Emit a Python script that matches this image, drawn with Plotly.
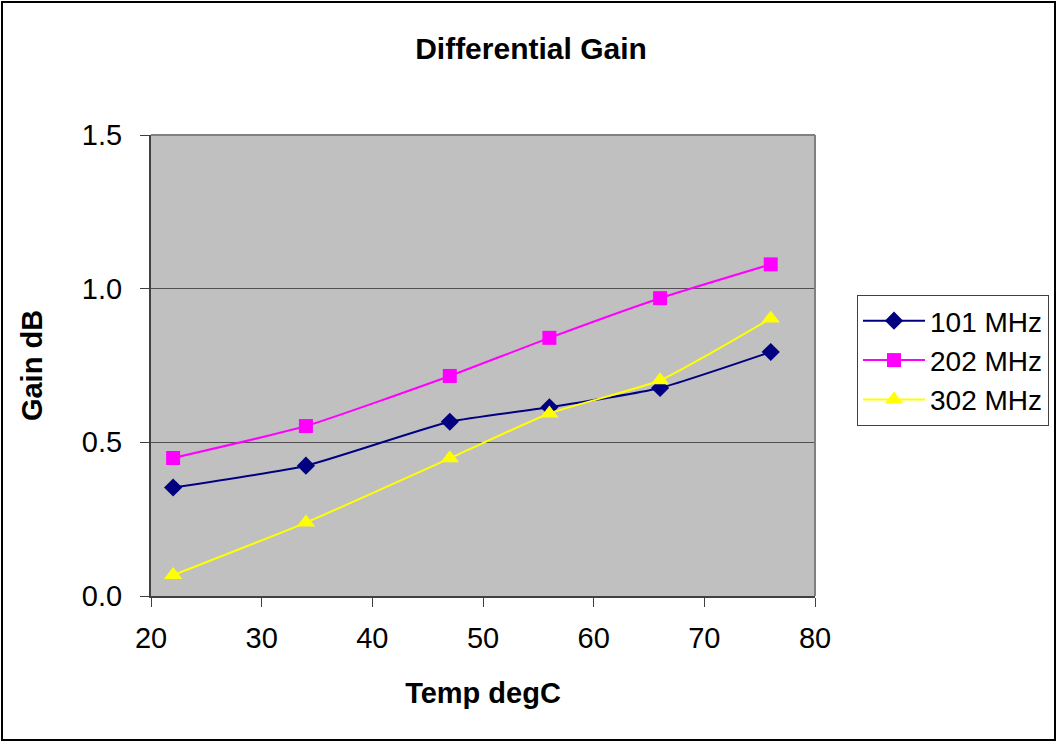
import plotly.graph_objects as go

temps = [22, 34, 47, 56, 66, 76]
gain_101 = [0.353, 0.424, 0.567, 0.614, 0.677, 0.794]
gain_202 = [0.449, 0.553, 0.716, 0.840, 0.969, 1.079]
gain_302 = [0.068, 0.239, 0.448, 0.594, 0.702, 0.903]
series_names = ["101 MHz", "202 MHz", "302 MHz"]

W, H = 1057, 742
L, R, T, B = 151, 242, 135, 146
pw, ph = W - L - R, H - T - B

fig = go.Figure()
styles = [
    (gain_101, "#000080", "diamond", 14),
    (gain_202, "#FF00FF", "square", 14),
    (gain_302, "#FFFF00", "triangle-up", 16),
]
for name, (vals, col, sym, sz) in zip(series_names, styles):
    fig.add_trace(go.Scatter(
        x=temps, y=vals, name=name, mode="lines+markers",
        line=dict(color=col, width=2, shape="spline", smoothing=0.5),
        marker=dict(symbol=sym, size=sz, color=col),
    ))

font = "Liberation Sans, Arial, sans-serif"
fig.update_layout(
    width=W, height=H,
    margin=dict(l=L, r=R, t=T, b=B, autoexpand=False),
    paper_bgcolor="white", plot_bgcolor="#C0C0C0",
    font=dict(family=font, size=29, color="black"),
    title=dict(text="<b>Differential Gain</b>", x=531 / W, xanchor="center",
               y=1 - 48 / H, yanchor="middle", font=dict(size=30)),
    showlegend=True,
    legend=dict(x=(857 - L) / pw, xanchor="left", y=1 - (295 - T) / ph, yanchor="top",
                bordercolor="#404040", borderwidth=1, bgcolor="white",
                font=dict(size=28), tracegroupgap=0, itemwidth=62),
    xaxis=dict(range=[20, 80], tickvals=[20, 30, 40, 50, 60, 70, 80], showgrid=False,
               showline=True, linecolor="#404040", linewidth=2, mirror=False,
               ticks="outside", ticklen=9, tickcolor="#404040", zeroline=False,
               ticklabelstandoff=6,
               title=dict(text="<b>Temp degC</b>", standoff=30, font=dict(size=29))),
    yaxis=dict(range=[0, 1.5], tickvals=[0, 0.5, 1.0, 1.5], ticktext=["0.0", "0.5", "1.0", "1.5"],
               showgrid=True, gridcolor="#505050", gridwidth=1,
               showline=True, linecolor="#404040", linewidth=2,
               ticks="outside", ticklen=9, tickcolor="#404040", zeroline=False,
               ticklabelstandoff=12,
               title=dict(text="<b>Gain dB</b>", standoff=31, font=dict(size=29))),
)
# right/top frame of plot area
fig.add_shape(type="line", xref="paper", yref="paper", x0=1, x1=1, y0=0, y1=1,
              line=dict(color="#808080", width=2))
fig.add_shape(type="line", xref="paper", yref="paper", x0=0, x1=1, y0=1, y1=1,
              line=dict(color="#808080", width=2))
# outer chart border
fig.add_shape(type="rect", xref="paper", yref="paper",
              x0=(2 - L) / pw, x1=(W - 2 - L) / pw,
              y0=-(H - 2 - T - ph) / ph, y1=1 + (T - 2) / ph,
              line=dict(color="black", width=2), layer="above")

fig.write_html("out.html")
